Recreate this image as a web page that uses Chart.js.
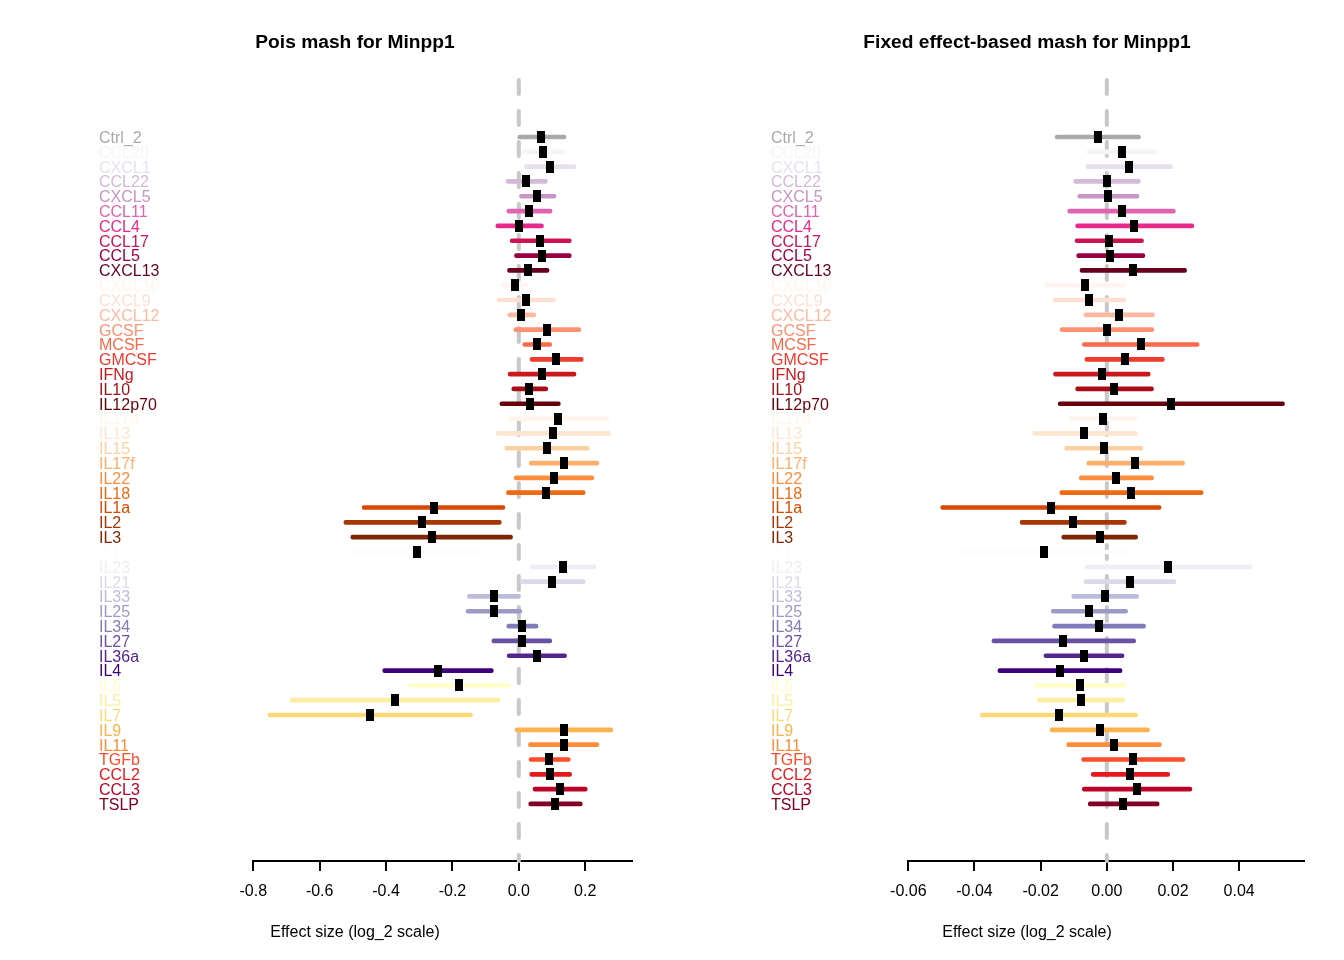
<!DOCTYPE html>
<html><head><meta charset="utf-8">
<script src="https://cdn.jsdelivr.net/npm/chart.js@4/dist/chart.umd.min.js"></script>
<style>
html,body{margin:0;padding:0;background:#fff;overflow:hidden;}
#wrap{position:relative;width:1344px;height:960px;background:#fff;}
.panel{position:absolute;top:0;width:672px;height:960px;}
</style></head><body>
<div id="wrap">
<div class="panel" style="left:0"><canvas id="c1" width="672" height="960"></canvas></div>
<div class="panel" style="left:672px"><canvas id="c2" width="672" height="960"></canvas></div>
</div>
<script>
const categories = ["Ctrl_2","CCL20","CXCL1","CCL22","CXCL5","CCL11","CCL4","CCL17","CCL5","CXCL13",
  "CXCL10","CXCL9","CXCL12","GCSF","MCSF","GMCSF","IFNg","IL10","IL12p70",
  "IL17a","IL13","IL15","IL17f","IL22","IL18","IL1a","IL2","IL3",
  "IL1b","IL23","IL21","IL33","IL25","IL34","IL27","IL36a","IL4",
  "IL6","IL5","IL7","IL9","IL11","TGFb","CCL2","CCL3","TSLP"];
const seriesColors = ["#A9A9A9","#F7F4F9","#E7E1EF","#D4B9DA","#C994C7","#DF65B0","#E7298A","#CE1256","#980043","#67001F",
  "#FFF5F0","#FEE0D2","#FCBBA1","#FC9272","#FB6A4A","#EF3B2C","#CB181D","#A50F15","#67000D",
  "#FFF5EB","#FEE6CE","#FDD0A2","#FDAE6B","#FD8D3C","#F16913","#D94801","#A63603","#7F2704",
  "#FCFBFD","#EFEDF5","#DADAEB","#BCBDDC","#9E9AC8","#807DBA","#6A51A3","#54278F","#3F007D",
  "#FFFFCC","#FFEDA0","#FED976","#FEB24C","#FD8D3C","#FC4E2A","#E31A1C","#BD0026","#800026"];

const poisMean = [0.068,0.072,0.094,0.023,0.056,0.032,0.002,0.065,0.071,0.028,
  -0.013,0.023,0.008,0.085,0.055,0.113,0.069,0.032,0.034,
  0.119,0.104,0.084,0.137,0.105,0.081,-0.256,-0.291,-0.263,
  -0.308,0.133,0.099,-0.075,-0.075,0.011,0.009,0.054,-0.244,
  -0.179,-0.373,-0.448,0.137,0.136,0.092,0.095,0.125,0.110];
const poisLower = [-0.003,0.007,0.017,-0.038,0.002,-0.036,-0.069,-0.026,-0.013,-0.034,
  -0.052,-0.065,-0.033,-0.015,0.012,0.034,-0.032,-0.021,-0.057,
  -0.031,-0.068,-0.042,0.032,-0.014,-0.037,-0.472,-0.527,-0.506,
  -0.506,0.034,0.000,-0.155,-0.159,-0.036,-0.081,-0.035,-0.410,
  -0.334,-0.689,-0.756,-0.011,0.029,0.031,0.033,0.043,0.030];
const poisUpper = [0.142,0.139,0.172,0.086,0.112,0.100,0.074,0.158,0.158,0.091,
  0.027,0.110,0.051,0.187,0.099,0.194,0.172,0.087,0.125,
  0.272,0.277,0.212,0.241,0.226,0.200,-0.042,-0.053,-0.019,
  -0.107,0.232,0.200,0.005,0.009,0.058,0.099,0.144,-0.077,
  -0.025,-0.057,-0.140,0.283,0.241,0.155,0.159,0.206,0.191];

const fixedMean = [-0.0027,0.0045,0.0068,0.0001,0.0004,0.0045,0.0083,0.0007,0.0011,0.0078,
  -0.0066,-0.0053,0.0037,0.0000,0.0103,0.0054,-0.0015,0.0023,0.0194,
  -0.0012,-0.0068,-0.0010,0.0086,0.0029,0.0072,-0.0169,-0.0103,-0.0022,
  -0.0189,0.0185,0.0070,-0.0005,-0.0053,-0.0024,-0.0131,-0.0069,-0.0142,
  -0.0081,-0.0078,-0.0145,-0.0022,0.0021,0.0078,0.0070,0.0091,0.0050];
const fixedLower = [-0.0156,-0.0060,-0.0063,-0.0100,-0.0088,-0.0118,-0.0094,-0.0096,-0.0091,-0.0081,
  -0.0189,-0.0163,-0.0069,-0.0141,-0.0074,-0.0066,-0.0161,-0.0094,-0.0147,
  -0.0113,-0.0224,-0.0127,-0.0060,-0.0083,-0.0142,-0.0502,-0.0262,-0.0136,
  -0.0438,-0.0066,-0.0069,-0.0106,-0.0168,-0.0164,-0.0347,-0.0190,-0.0329,
  -0.0219,-0.0210,-0.0382,-0.0171,-0.0121,-0.0076,-0.0047,-0.0074,-0.0056];
const fixedUpper = [0.0102,0.0152,0.0199,0.0101,0.0097,0.0207,0.0263,0.0111,0.0115,0.0241,
  0.0058,0.0058,0.0144,0.0142,0.0279,0.0174,0.0131,0.0141,0.0537,
  0.0092,0.0092,0.0109,0.0235,0.0141,0.0291,0.0164,0.0059,0.0093,
  0.0062,0.0439,0.0209,0.0096,0.0063,0.0117,0.0087,0.0052,0.0046,
  0.0058,0.0054,0.0093,0.0129,0.0165,0.0236,0.0190,0.0257,0.0158];

const poisTicks = [-0.8,-0.6,-0.4,-0.2,0.0,0.2];
const fixedTicks = [-0.06,-0.04,-0.02,0.00,0.02,0.04];

const FONT = "'Liberation Sans', Arial, Helvetica, sans-serif";
Chart.defaults.font.family = FONT;
Chart.defaults.color = '#000';

function makeMarker(){
  const c = document.createElement('canvas');
  c.width = 8; c.height = 12;
  const g = c.getContext('2d');
  g.fillStyle = '#000';
  g.fillRect(0,0,8,12);
  return c;
}
const marker = makeMarker();

const zeroLine = {
  id: 'zeroLine',
  beforeDatasetsDraw(chart){
    const {ctx, chartArea, scales} = chart;
    const px = scales.x.getPixelForValue(0);
    ctx.save();
    ctx.strokeStyle = '#c8c8c8';
    ctx.lineWidth = 4;
    ctx.lineCap = 'round';
    ctx.setLineDash([14,17]);
    ctx.beginPath();
    ctx.moveTo(px, chartArea.top + 2);
    ctx.lineTo(px, chartArea.bottom);
    ctx.stroke();
    ctx.restore();
  }
};

const panelText = {
  id: 'panelText',
  afterDraw(chart, args, opts){
    const ctx = chart.ctx;
    ctx.save();
    ctx.fillStyle = '#000';
    ctx.textAlign = 'center';
    ctx.textBaseline = 'alphabetic';
    ctx.font = 'bold 19.2px ' + FONT;
    ctx.fillText(opts.title, opts.centerX, opts.titleY);
    ctx.font = '16px ' + FONT;
    ctx.fillText(opts.xlabel, opts.centerX, opts.xlabelY);
    ctx.restore();
  }
};

function makeChart(id, title, means, lows, highs, tickVals, xmin, xmax, yWidth, decimals){
  const bars = categories.map((c,i) => ({y: i, x: [lows[i], highs[i]]}));
  const pts = categories.map((c,i) => ({y: i, x: means[i]}));
  return new Chart(document.getElementById(id), {
    type: 'bar',
    data: {
      datasets: [
        {
          type: 'bar', indexAxis: 'y', data: bars,
          backgroundColor: seriesColors, borderWidth: 0,
          barThickness: 4, borderRadius: 2, borderSkipped: false, order: 2
        },
        {
          type: 'scatter', data: pts, pointStyle: marker,
          pointRadius: 6, showLine: false, order: 1
        }
      ]
    },
    options: {
      responsive: false,
      devicePixelRatio: 1,
      animation: false,
      layout: { padding: { left: 99, right: 40, top: 78, bottom: 59 } },
      plugins: {
        legend: { display: false },
        tooltip: { enabled: false },
        panelText: { title: title, xlabel: 'Effect size (log_2 scale)', centerX: 355, titleY: 48, xlabelY: 937 }
      },
      scales: {
        x: {
          type: 'linear', min: xmin, max: xmax, offset: false, beginAtZero: false,
          afterBuildTicks: s => { s.ticks = tickVals.map(v => ({value: v})); },
          afterFit: s => { s.height = 40; },
          grid: { display: true, drawOnChartArea: false, drawTicks: true, tickLength: 10, color: '#000', lineWidth: 2, offset: false },
          border: { display: true, color: '#000', width: 2 },
          ticks: { font: { size: 16 }, color: '#000', padding: 11, maxRotation: 0, autoSkip: false,
            callback: v => Number(v).toFixed(decimals) }
        },
        y: {
          type: 'linear', min: -3.98, max: 48.85, reverse: true, offset: false, beginAtZero: false,
          afterBuildTicks: s => { s.ticks = categories.map((c,i) => ({value: i})); },
          afterFit: s => { s.width = yWidth; },
          grid: { display: false, offset: false },
          border: { display: false },
          ticks: { autoSkip: false, crossAlign: 'far', font: { size: 16 }, labelOffset: 1.5,
            color: ctx => seriesColors[ctx.index],
            callback: (v, i) => categories[i] }
        }
      }
    },
    plugins: [zeroLine, panelText]
  });
}

makeChart('c1', 'Pois mash for Minpp1', poisMean, poisLower, poisUpper, poisTicks, -0.8, 0.341, 154.3, 1);
makeChart('c2', 'Fixed effect-based mash for Minpp1', fixedMean, fixedLower, fixedUpper, fixedTicks, -0.06, 0.0596, 137.3, 2);
</script>
</body></html>
